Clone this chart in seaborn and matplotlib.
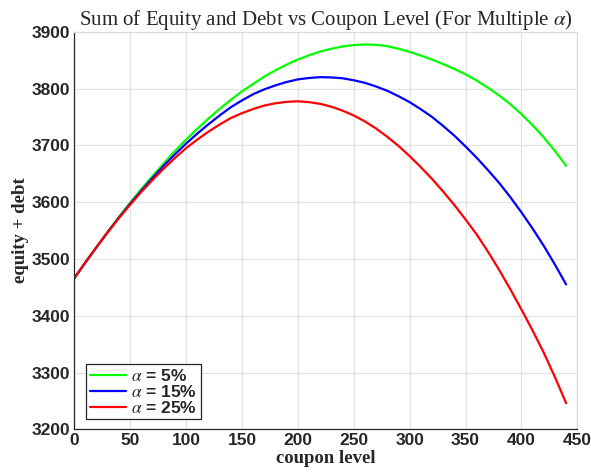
import numpy as np
import pandas as pd
import matplotlib.pyplot as plt
import seaborn as sns

# values (every 10 coupon units)
coupon = list(range(0, 441, 10))
value_5 = [3466, 3494, 3521, 3548, 3574, 3599, 3623, 3646, 3668, 3690,
           3710, 3729, 3747, 3764, 3780, 3795, 3808, 3821, 3832, 3842,
           3851, 3858.5, 3865, 3870, 3874, 3876.5, 3877.5, 3877, 3874.5, 3870,
           3864.5, 3858, 3851, 3843, 3834.5, 3825, 3814, 3801.5, 3788, 3772.5,
           3755, 3735.5, 3714, 3690, 3664]
value_15 = [3466, 3494, 3521, 3547.5, 3573, 3597, 3620, 3642.5, 3664, 3684,
            3703, 3720.5, 3737, 3752.5, 3767, 3779, 3790, 3798.5, 3805.5, 3811.5,
            3816, 3818.5, 3820, 3819.5, 3818, 3814.5, 3810, 3803.5, 3796, 3786.5,
            3776, 3763.5, 3750, 3734, 3717, 3698, 3678, 3656.5, 3634, 3609,
            3582, 3553.5, 3523, 3490, 3455]
value_25 = [3466, 3494, 3521, 3547, 3572, 3595.5, 3618, 3639, 3659, 3677.5,
            3695, 3710, 3724, 3736.5, 3748, 3756.5, 3764, 3770, 3774, 3776.5,
            3777.5, 3776, 3773, 3768, 3761, 3752.5, 3742, 3729.5, 3715, 3699,
            3681, 3661.5, 3641, 3618.5, 3595, 3569.5, 3543, 3513, 3481, 3447,
            3411, 3374, 3335, 3292, 3246]
labels = [r'$\alpha$ = 5%', r'$\alpha$ = 15%', r'$\alpha$ = 25%']
colors = ['#00ff00', '#0000ff', '#ff0000']

df = pd.DataFrame({
    'coupon': coupon * 3,
    'value': value_5 + value_15 + value_25,
    'alpha': [labels[0]] * len(coupon) + [labels[1]] * len(coupon) + [labels[2]] * len(coupon),
})

sns.set_style("whitegrid")
plt.rcParams['font.family'] = ['Liberation Sans', 'DejaVu Sans']
plt.rcParams['mathtext.fontset'] = 'stix'

fig = plt.figure(figsize=(5.91, 4.76), dpi=100)
ax = fig.add_axes([0.1257, 0.0981, 0.8511, 0.8353])

sns.lineplot(data=df, x='coupon', y='value', hue='alpha', hue_order=labels,
             palette=dict(zip(labels, colors)), linewidth=1.6, ax=ax)

ax.set_xlim(0, 450)
ax.set_ylim(3200, 3900)
ax.set_xticks(np.arange(0, 451, 50))
ax.set_yticks(np.arange(3200, 3901, 100))
ax.grid(True, color='#e3e3e3', linewidth=0.9)

for s in ['left', 'bottom']:
    ax.spines[s].set_color('#262626')
    ax.spines[s].set_linewidth(0.9)
for s in ['top', 'right']:
    ax.spines[s].set_color('#dddddd')
    ax.spines[s].set_linewidth(0.9)

ax.tick_params(direction='in', length=5, width=0.8, color='#262626',
               labelcolor='#262626', labelsize=12.5, pad=3)
for t in ax.get_xticklabels() + ax.get_yticklabels():
    t.set_fontweight('bold')

ax.set_title(r'Sum of Equity and Debt vs Coupon Level (For Multiple $\alpha$)',
             family='Liberation Serif', fontsize=15, pad=5)
ax.set_xlabel('coupon level', family='Liberation Serif', fontweight='bold',
              fontsize=13.5, labelpad=1)
ax.set_ylabel('equity + debt', family='Liberation Serif', fontweight='bold',
              fontsize=13.5, labelpad=2)

leg = ax.legend(loc='lower left', bbox_to_anchor=(0.024, 0.025), frameon=True,
                fancybox=False, edgecolor='#262626', framealpha=1,
                prop={'weight': 'bold', 'size': 12.5}, handlelength=2.1,
                handletextpad=0.3, borderpad=0.2, labelspacing=0.0,
                borderaxespad=0)
leg.get_frame().set_linewidth(0.9)

fig.savefig('out.png', dpi=100)
